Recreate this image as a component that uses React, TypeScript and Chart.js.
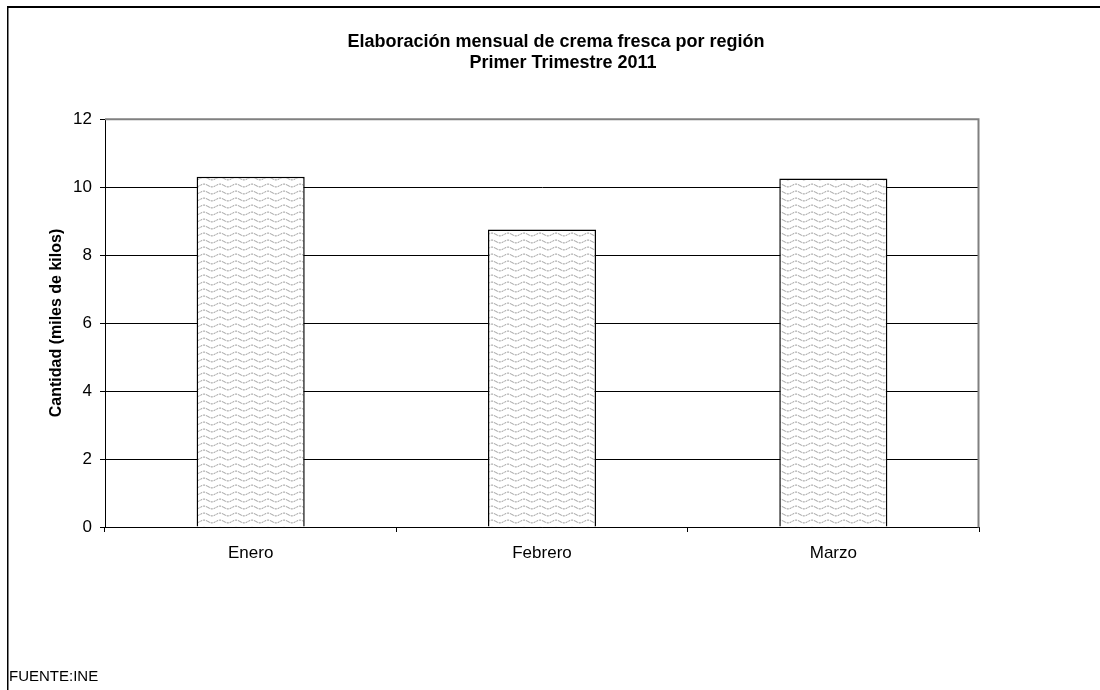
import React, { useEffect, useRef } from "react";
import { Chart, registerables } from "chart.js";

Chart.register(...registerables);

const categories = ["Enero", "Febrero", "Marzo"];
const values = [10.3, 8.75, 10.25];
const titleLines = ["Elaboración mensual de crema fresca por región", "Primer Trimestre 2011"];
const yAxisTitle = "Cantidad (miles de kilos)";
const sourceNote = "FUENTE:INE";
const yMin = 0;
const yMax = 12;
const yStep = 2;

const FONT = "'Liberation Sans', Arial, sans-serif";

function makePattern(): CanvasPattern | string {
  const c = document.createElement("canvas");
  c.width = 16;
  c.height = 7;
  const g = c.getContext("2d");
  if (!g) return "#ddd";
  g.fillStyle = "#ffffff";
  g.fillRect(0, 0, 16, 7);
  g.strokeStyle = "#8c8c8c";
  g.lineWidth = 1;
  g.setLineDash([2, 1]);
  g.beginPath();
  for (let x = 0; x <= 16; x += 0.5) {
    const y = 3.5 + 1.4 * Math.sin((2 * Math.PI * x) / 16);
    if (x === 0) g.moveTo(x, y);
    else g.lineTo(x, y);
  }
  g.stroke();
  const p = g.createPattern(c, "repeat");
  return p || "#ddd";
}

const decorPlugin = {
  id: "decor",
  afterDraw(chart: any) {
    const ctx = chart.ctx as CanvasRenderingContext2D;
    const area = chart.chartArea;
    ctx.save();
    // outer frame (top & left visible)
    ctx.fillStyle = "#000";
    ctx.fillRect(7, 6, 1100, 2);
    ctx.fillRect(7, 6, 1.5, 700);
    // plot area border top & right (gray)
    ctx.strokeStyle = "#808080";
    ctx.lineWidth = 2;
    ctx.beginPath();
    ctx.moveTo(area.left, area.top + 0.3);
    ctx.lineTo(area.right - 0.5, area.top + 0.3);
    ctx.lineTo(area.right - 0.5, area.bottom + 0.5);
    ctx.stroke();
    // title
    ctx.fillStyle = "#000";
    ctx.textAlign = "center";
    ctx.textBaseline = "alphabetic";
    ctx.font = `bold 18px ${FONT}`;
    ctx.fillText(titleLines[0], 556, 46.5);
    ctx.fillText(titleLines[1], 563, 68);
    // y axis title
    ctx.save();
    ctx.translate(57, (area.top + area.bottom) / 2);
    ctx.rotate(-Math.PI / 2);
    ctx.font = `bold 16px ${FONT}`;
    ctx.textBaseline = "middle";
    ctx.fillText(yAxisTitle, 0, 0);
    ctx.restore();
    // source
    ctx.textAlign = "left";
    ctx.textBaseline = "middle";
    ctx.font = `15px ${FONT}`;
    ctx.fillText(sourceNote, 9, 677);
    ctx.restore();
  },
};

export default function App() {
  const ref = useRef<HTMLCanvasElement | null>(null);
  useEffect(() => {
    if (!ref.current) return;
    const chart = new Chart(ref.current, {
      type: "bar",
      data: {
        labels: categories,
        datasets: [
          {
            data: values,
            backgroundColor: makePattern() as any,
            borderColor: "#000",
            borderWidth: 1.5,
            categoryPercentage: 1,
            barPercentage: 0.371,
          },
        ],
      },
      options: {
        responsive: false,
        animation: false,
        devicePixelRatio: 1,
        layout: { padding: { left: 0, top: 119, right: 121, bottom: 0 } },
        plugins: {
          legend: { display: false },
          title: { display: false },
          tooltip: { enabled: false },
        },
        scales: {
          x: {
            grid: {
              offset: true,
              drawOnChartArea: false,
              drawTicks: true,
              tickLength: 5,
              color: "#000",
              tickColor: "#000",
            },
            border: { display: true, color: "#000", width: 1 },
            ticks: {
              color: "#000",
              font: { family: FONT, size: 17 },
              padding: 11,
              maxRotation: 0,
            },
            afterFit(scale: any) {
              scale.height = 163;
            },
          },
          y: {
            min: yMin,
            max: yMax,
            ticks: {
              stepSize: yStep,
              color: "#000",
              font: { family: FONT, size: 17 },
              padding: 8,
            },
            grid: {
              tickLength: 5,
              color: (c: any) => (c.tick && c.tick.value === yMax ? "rgba(0,0,0,0)" : "#000"),
              tickColor: "#000",
              lineWidth: 1,
            },
            border: { display: true, color: "#000", width: 1 },
            afterFit(scale: any) {
              scale.width = 105;
            },
          },
        },
      },
      plugins: [decorPlugin],
    });
    return () => chart.destroy();
  }, []);
  return (
    <div style={{ position: "fixed", left: 0, top: 0, width: 1100, height: 690, background: "#fff", overflow: "hidden" }}>
      <canvas ref={ref} width={1100} height={690} style={{ display: "block" }} />
    </div>
  );
}
